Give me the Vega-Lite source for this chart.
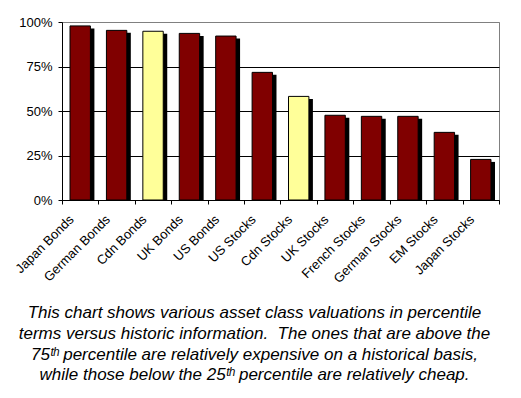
{
  "$schema": "https://vega.github.io/schema/vega-lite/v6.json",
  "width": 437,
  "height": 178,
  "autosize": {"type": "none"},
  "padding": {"left": 62, "top": 22, "right": 22, "bottom": 198},
  "background": "white",
  "config": {
    "font": "Liberation Sans",
    "view": {"stroke": "#808080", "strokeWidth": 1},
    "axis": {"labelFont": "Liberation Sans", "labelColor": "#000000", "domainColor": "#000000", "tickColor": "#000000"}
  },
  "title": {
    "text": [
      "This chart shows various asset class valuations in percentile",
      "terms versus historic information.\u00a0 The ones that are above the",
      "75ᵗʰ percentile are relatively expensive on a historical basis,",
      "while those below the 25ᵗʰ percentile are relatively cheap."
    ],
    "orient": "bottom",
    "anchor": "middle",
    "dx": -26,
    "offset": 20,
    "font": "Liberation Sans",
    "fontSize": 17,
    "fontStyle": "italic",
    "fontWeight": "normal",
    "color": "#000000",
    "lineHeight": 20.7
  },
  "data": {
    "values": [
      {"asset": "Japan Bonds", "pct": 0.978, "group": "other"},
      {"asset": "German Bonds", "pct": 0.953, "group": "other"},
      {"asset": "Cdn Bonds", "pct": 0.948, "group": "cdn"},
      {"asset": "UK Bonds", "pct": 0.936, "group": "other"},
      {"asset": "US Bonds", "pct": 0.921, "group": "other"},
      {"asset": "US Stocks", "pct": 0.717, "group": "other"},
      {"asset": "Cdn Stocks", "pct": 0.582, "group": "cdn"},
      {"asset": "UK Stocks", "pct": 0.476, "group": "other"},
      {"asset": "French Stocks", "pct": 0.47, "group": "other"},
      {"asset": "German Stocks", "pct": 0.47, "group": "other"},
      {"asset": "EM Stocks", "pct": 0.38, "group": "other"},
      {"asset": "Japan Stocks", "pct": 0.228, "group": "other"}
    ]
  },
  "encoding": {
    "x": {
      "field": "asset",
      "type": "nominal",
      "sort": null,
      "scale": {"paddingInner": 0, "paddingOuter": 0},
      "axis": {
        "title": null,
        "tickBand": "extent",
        "labelAngle": -45,
        "labelAlign": "right",
        "labelBaseline": "middle",
        "labelFontSize": 13,
        "labelPadding": 13,
        "labelOffset": -9,
        "tickSize": 4,
        "domainColor": "#000000",
        "labelOverlap": false
      }
    },
    "y": {
      "field": "pct",
      "type": "quantitative",
      "scale": {"domain": [0, 1], "nice": false},
      "axis": {
        "title": null,
        "values": [0, 0.25, 0.5, 0.75, 1],
        "format": ".0%",
        "labelFontSize": 13,
        "labelPadding": 6,
        "tickSize": 4,
        "grid": true,
        "gridColor": {"condition": {"test": "datum.value == 1", "value": "#808080"}, "value": "#000000"},
        "gridOpacity": 1
      }
    }
  },
  "layer": [
    {
      "mark": {"type": "bar", "color": "#000000", "xOffset": 4, "yOffset": 2.5, "width": {"band": 0.56}, "clip": true}
    },
    {
      "mark": {"type": "bar", "stroke": "#000000", "strokeWidth": 1, "width": {"band": 0.56}},
      "encoding": {
        "color": {
          "field": "group",
          "type": "nominal",
          "scale": {"domain": ["other", "cdn"], "range": ["#800000", "#FFFF99"]},
          "legend": null
        }
      }
    }
  ]
}
